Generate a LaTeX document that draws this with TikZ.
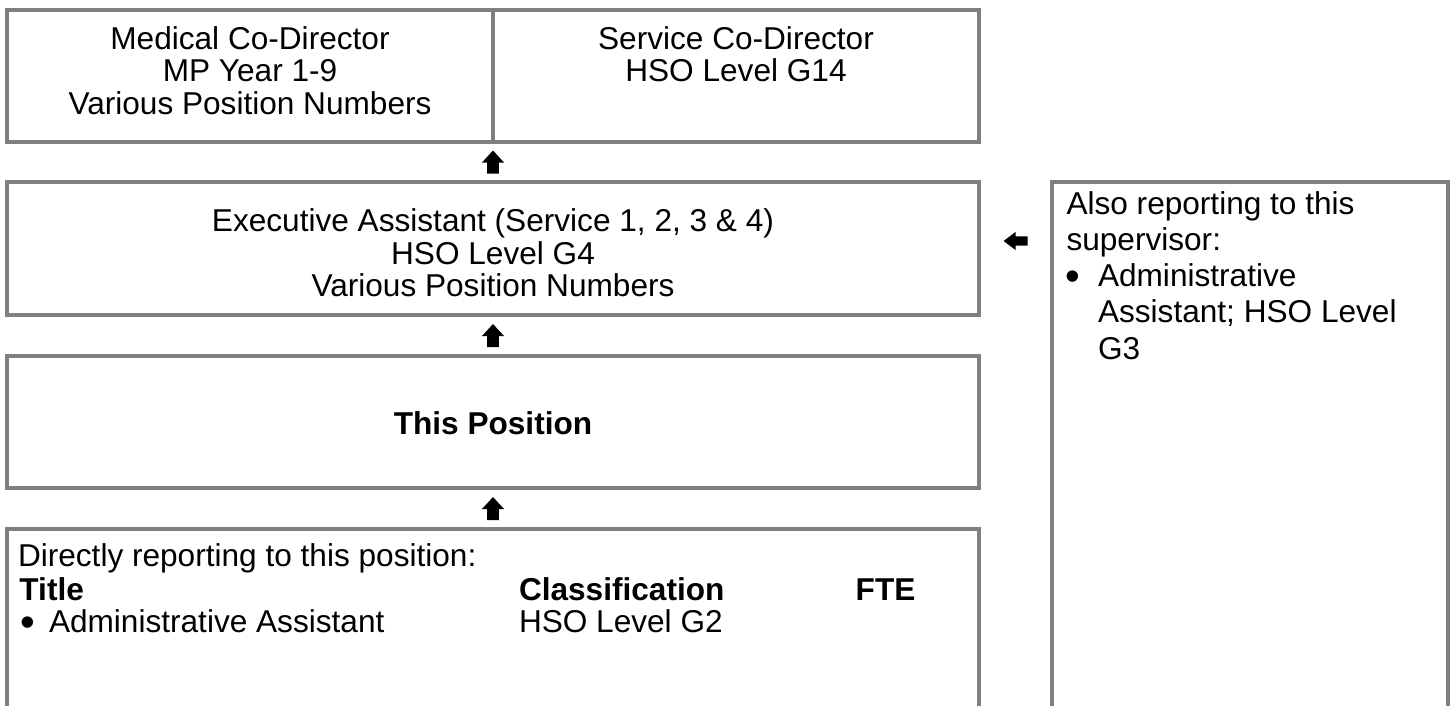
\documentclass[tikz,border=0pt]{standalone}
\usepackage{fontspec}
\setmainfont{Liberation Sans}
\usetikzlibrary{calc}
\definecolor{boxgray}{RGB}{128,128,128}
\tikzset{
  uparrow/.pic={\fill[black] (0,-11.5) -- (11,0.5) -- (5.8,0.5) -- (5.8,11.5) -- (-5.8,11.5) -- (-5.8,0.5) -- (-11,0.5) -- cycle;},
  leftarrow/.pic={\fill[black] (-12,0) -- (0,-9) -- (0,-4.7) -- (12,-4.7) -- (12,4.7) -- (0,4.7) -- (0,9) -- cycle;}
}
\begin{document}
\begin{tikzpicture}[x=1pt,y=-1pt,
  box/.style={draw=boxgray, line width=4pt, rectangle, inner sep=0pt, outer sep=0pt},
  openbox/.style={draw=none, rectangle, inner sep=0pt, outer sep=0pt},
  frame/.style={draw=boxgray, line width=4pt},
  txt/.style={inner sep=0pt, outer sep=0pt, font=\fontsize{31.6}{36.3}\selectfont},
  ctxt/.style={txt, anchor=base},
  ltxt/.style={txt, anchor=base west},
  btxt/.style={ltxt, font=\fontsize{31.6}{36.3}\selectfont\bfseries},
  bullettxt/.style={ltxt, font=\fontsize{42}{42}\selectfont}
]
\useasboundingbox (0,0) rectangle (1450,705);
% boxes
\node[box, minimum width=486pt, minimum height=132pt] (med) at (250,76) {};
\node[box, minimum width=486pt, minimum height=132pt] (svc) at (736,76) {};
\node[box, minimum width=972pt, minimum height=133pt] (exec) at (493,248.5) {};
\node[box, minimum width=972pt, minimum height=132pt] (pos) at (493,422) {};
\node[openbox, minimum width=972pt, minimum height=181pt] (direct) at (493,619.5) {};
\node[openbox, minimum width=396pt, minimum height=528pt] (also) at (1250,446) {};
\draw[frame] (direct.south west) -- (direct.north west) -- (direct.north east) -- (direct.south east);
\draw[frame] (also.south west) -- (also.north west) -- (also.north east) -- (also.south east);
% arrows
\coordinate (a1) at ($(med.south east)!0.5!(exec.north)$);
\coordinate (a2) at ($(exec.south)!0.5!(pos.north)$);
\coordinate (a3) at ($(pos.south)!0.5!(direct.north)$);
\coordinate (a4) at ($(exec.east)!0.5!(exec.east -| also.west) + (0,-7.5)$);
\pic at (a1) {uparrow};
\pic at (a2) {uparrow};
\pic at (a3) {uparrow};
\pic at (a4) {leftarrow};
% texts
\node[ctxt] (med1) at (250,49) {Medical Co-Director};
\node[ctxt] (med2) at (250,81.5) {MP Year 1-9};
\node[ctxt] (med3) at (250,114) {Various Position Numbers};
\node[ctxt] (svc1) at (736,49) {Service Co-Director};
\node[ctxt] (svc2) at (736,81.5) {HSO Level G14};
\node[ctxt] (exec1) at (493,231.5) {Executive Assistant (Service 1, 2, 3 \& 4)};
\node[ctxt] (exec2) at (493,264) {HSO Level G4};
\node[ctxt] (exec3) at (493,296.5) {Various Position Numbers};
\node[ctxt, font=\fontsize{31.6}{36.3}\selectfont\bfseries] (pos1) at (493,434) {This Position};
\node[ltxt] (dir1) at (18,566) {Directly reporting to this position:};
\node[btxt] (dir2) at (19.5,600) {Title};
\node[btxt] (dir3) at (519,600) {Classification};
\node[btxt] (dir4) at (855.7,600) {FTE};
\node[bullettxt] (dir5) at (20.5,636.5) {•};
\node[ltxt] (dir6) at (49,632.5) {Administrative Assistant};
\node[ltxt] (dir7) at (519,632.5) {HSO Level G2};
\node[ltxt] (also1) at (1066.5,214) {Also reporting to this};
\node[ltxt] (also2) at (1066.5,250.3) {supervisor:};
\node[bullettxt] (also3) at (1065.5,290.6) {•};
\node[ltxt] (also4) at (1098,286.6) {Administrative};
\node[ltxt] (also5) at (1098,322.9) {Assistant; HSO Level};
\node[ltxt] (also6) at (1098,359.2) {G3};
\end{tikzpicture}
\end{document}
